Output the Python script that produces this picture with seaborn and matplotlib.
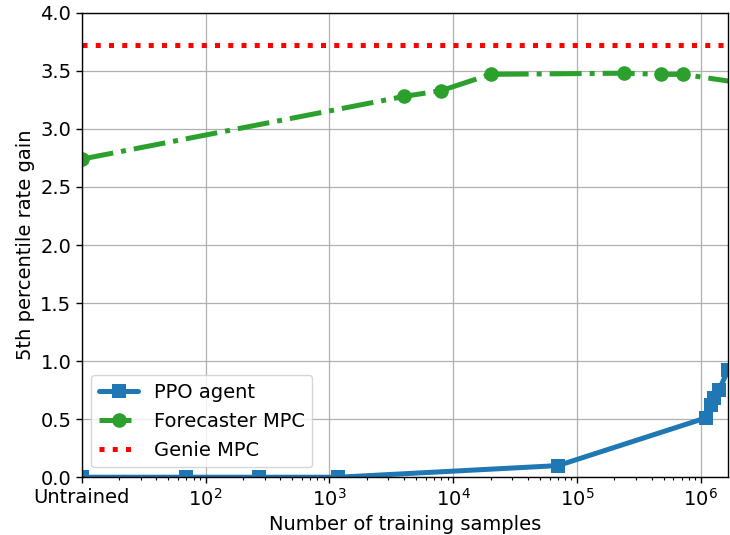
import numpy as np
import pandas as pd
import seaborn as sns
import matplotlib.pyplot as plt
import matplotlib.ticker as ticker

sns.set_style('ticks')
plt.rcParams['font.family'] = ['DejaVu Sans']
plt.rcParams['font.size'] = 14
plt.rcParams['text.color'] = 'black'
plt.rcParams['axes.labelcolor'] = 'black'
plt.rcParams['xtick.color'] = 'black'
plt.rcParams['ytick.color'] = 'black'

# training samples (10 stands for "Untrained")
ppo_samples = [10, 70, 270, 1180, 70000, 1.09e6, 1.2e6, 1.28e6, 1.4e6, 1.65e6]
ppo_gain = [0.0, 0.0, 0.0, 0.0, 0.10, 0.51, 0.62, 0.68, 0.75, 0.92]

mpc_samples = [10, 4000, 8000, 20000, 240000, 480000, 720000, 2.0e6]
mpc_gain = [2.74, 3.28, 3.33, 3.47, 3.48, 3.47, 3.47, 3.40]

genie_gain = 3.72

x_ticks = [10, 1e2, 1e3, 1e4, 1e5, 1e6]
x_ticklabels = ['Untrained', '$10^{2}$', '$10^{3}$', '$10^{4}$', '$10^{5}$', '$10^{6}$']

ppo_df = pd.DataFrame({'samples': ppo_samples, 'gain': ppo_gain})
mpc_df = pd.DataFrame({'samples': mpc_samples, 'gain': mpc_gain})

fig, ax = plt.subplots(figsize=(7.3, 5.35), dpi=100)
fig.subplots_adjust(left=0.112, right=0.997, top=0.976, bottom=0.108)

sns.lineplot(data=ppo_df, x='samples', y='gain', ax=ax, color='#1f77b4',
             marker='s', markersize=10.5, markeredgewidth=0, lw=3.6,
             label='PPO agent')
sns.lineplot(data=mpc_df, x='samples', y='gain', ax=ax, color='#2ca02c',
             marker='o', markersize=10.5, markeredgewidth=0, lw=3.6, ls='-.',
             label='Forecaster MPC')
ax.axhline(genie_gain, color='red', lw=3.6, ls=':', label='Genie MPC')

ax.set_xscale('log')
ax.set_xlim(10, 1.65e6)
ax.set_ylim(0, 4)
ax.set_xticks(x_ticks)
ax.set_xticklabels(x_ticklabels)
ax.xaxis.set_minor_locator(ticker.LogLocator(base=10, subs=np.arange(2, 10), numticks=100))
ax.xaxis.set_minor_formatter(ticker.NullFormatter())
ax.set_yticks(np.arange(0, 4.01, 0.5))
ax.set_yticklabels([f'{v:.1f}' for v in np.arange(0, 4.01, 0.5)])
ax.grid(True, which='major', color='#b0b0b0', lw=0.9)
ax.set_axisbelow(True)
for s in ax.spines.values():
    s.set_color('black')
    s.set_linewidth(1)
ax.tick_params(axis='both', which='major', labelsize=14, length=4, width=1)
ax.tick_params(axis='x', which='minor', length=2.5, width=0.8, bottom=True)

ax.set_xlabel('Number of training samples', fontsize=14)
ax.set_ylabel('5th percentile rate gain', fontsize=14)
ax.legend(loc='lower left', fontsize=14, frameon=True)

fig.savefig('out.png', dpi=100)
